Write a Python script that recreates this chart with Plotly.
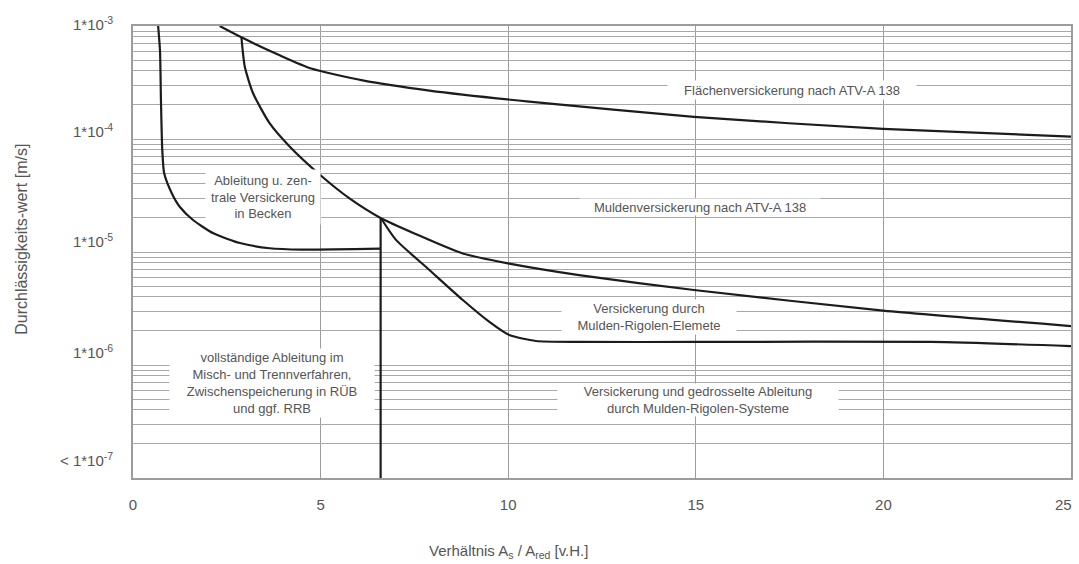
import math
import plotly.graph_objects as go

# ---- data ----
# boundary of "Ableitung u. zentrale Versickerung in Becken"
left_x = [0.67, 0.72, 0.745, 0.78, 0.83, 1.03, 1.25, 1.6, 2.13, 2.85, 3.64, 4.5, 6.6]
left_y = [1e-3, 6.0e-4, 2.21e-4, 8.0e-5, 5.0e-5, 3.33e-5, 2.5e-5, 1.92e-5, 1.47e-5, 1.2e-5, 1.08e-5, 1.05e-5, 1.07e-5]

# vertical divider
div_x = [6.6, 6.6]
div_y = [1e-7, 1.99e-5]

# Flächenversickerung boundary
flaeche_x = [2.31, 2.89, 3.91, 4.75, 6.12, 7.9, 10.56, 14.95, 19.99, 25]
flaeche_y = [1e-3, 7.94e-4, 5.5e-4, 4.2e-4, 3.3e-4, 2.68e-4, 2.14e-4, 1.57e-4, 1.23e-4, 1.05e-4]

# Muldenversickerung / Mulden-Rigolen-Elemente boundary
mulden_x = [2.89, 2.98, 3.2, 3.64, 4.18, 4.99, 5.77, 6.61, 7.5, 8.79, 10.03, 11.89, 14.95, 19.99, 25]
mulden_y = [7.94e-4, 4.36e-4, 2.54e-4, 1.38e-4, 8.55e-5, 4.8e-5, 2.98e-5, 1.99e-5, 1.46e-5, 9.7e-6,
            7.9e-6, 6.25e-6, 4.61e-6, 3.03e-6, 2.21e-6]

# Mulden-Rigolen-Systeme boundary
rig_x = [6.61, 7.01, 7.9, 8.79, 9.49, 10.03, 10.74, 11.89, 15, 21.27, 25]
rig_y = [1.99e-5, 1.28e-5, 6.93e-6, 3.76e-6, 2.42e-6, 1.84e-6, 1.63e-6, 1.6e-6, 1.6e-6, 1.6e-6, 1.47e-6]

x_ticks = [0, 5, 10, 15, 20, 25]
x_tick_labels = ["0", "5", "10", "15", "20", "25"]
decades = [1e-7, 1e-6, 1e-5, 1e-4, 1e-3]
y_tick_labels = ["< 1*10<sup>-7</sup>", "1*10<sup>-6</sup>", "1*10<sup>-5</sup>",
                 "1*10<sup>-4</sup>", "1*10<sup>-3</sup>"]
y_label_shift = [19, 14, 12, 9, 3]

region_labels = [
    "Flächenversickerung nach ATV-A 138",
    "Muldenversickerung nach ATV-A 138",
    "Ableitung u. zen-<br>trale Versickerung<br>in Becken",
    "vollständige Ableitung im<br>Misch- und Trennverfahren,<br>Zwischenspeicherung in RÜB<br>und ggf. RRB",
    "Versickerung durch<br>Mulden-Rigolen-Elemete",
    "Versickerung und gedrosselte Ableitung<br>durch Mulden-Rigolen-Systeme",
]
region_x = [17.57, 15.1, 3.46, 3.71, 13.75, 15.07]
region_y = [2.72e-4, 2.49e-5, 3.08e-5, 7.0e-7, 2.66e-6, 4.9e-7]
# layout of the white label boxes (px)
region_w = [248, 240, 114, 204, 174, 280]
region_h = [18, 16, 54, 68, 34, 32]

# ---- grid values (log minor grid) ----
grid_vals = []
for d in decades[:-1]:
    for m in range(1, 10):
        grid_vals.append(d * m)
grid_vals.append(decades[-1])

FONT = "Liberation Sans, Arial, sans-serif"
TXT = "#555555"
LINE = "#1c1c1c"

fig = go.Figure()
for xs, ys, shape in [(left_x, left_y, "spline"), (div_x, div_y, "linear"),
                      (flaeche_x, flaeche_y, "spline"), (mulden_x, mulden_y, "spline"),
                      (rig_x, rig_y, "spline")]:
    fig.add_trace(go.Scatter(x=xs, y=ys, mode="lines",
                             line=dict(color=LINE, width=2.2, shape=shape, smoothing=0.6),
                             showlegend=False, hoverinfo="skip"))

annotations = []
for t, x, y, w, h in zip(region_labels, region_x, region_y, region_w, region_h):
    annotations.append(dict(text=t, x=x, y=math.log10(y), xref="x", yref="y", yanchor="middle",
                            showarrow=False, bgcolor="white", width=w, height=h,
                            borderpad=0, align="center", valign="middle",
                            font=dict(family=FONT, size=13, color=TXT)))
for v, lab, s in zip(decades, y_tick_labels, y_label_shift):
    annotations.append(dict(text=lab, x=0, xref="paper", y=math.log10(v), yref="y",
                            xanchor="right", yanchor="middle", xshift=-18, yshift=s,
                            showarrow=False, font=dict(family=FONT, size=15, color=TXT)))
# last x tick label sits inside the right edge
annotations.append(dict(text=x_tick_labels[-1], x=x_ticks[-1], xref="x", xanchor="right", xshift=3,
                        y=0, yref="paper", yanchor="middle", yshift=-26,
                        showarrow=False, font=dict(family=FONT, size=15, color=TXT)))
annotations.append(dict(text="Verhältnis A<sub>s</sub> / A<sub>red</sub> [v.H.]",
                        x=10, xref="x", xanchor="center", y=0, yref="paper", yanchor="middle",
                        yshift=-73, showarrow=False, font=dict(family=FONT, size=15, color=TXT)))
annotations.append(dict(text="Durchlässigkeits-wert [m/s]", textangle=-90,
                        x=0, xref="paper", xanchor="center", xshift=-111, y=0.527, yref="paper",
                        yanchor="middle", showarrow=False, font=dict(family=FONT, size=16, color=TXT)))

fig.update_layout(
    width=1079, height=564,
    margin=dict(l=133, r=6, t=26, b=86),
    paper_bgcolor="white", plot_bgcolor="white",
    annotations=annotations,
    xaxis=dict(range=[0, 25], tickvals=x_ticks[:-1], ticktext=x_tick_labels[:-1],
               showgrid=True, gridcolor="#9c9c9c", gridwidth=1,
               zeroline=False, showline=True, linecolor="#9c9c9c", linewidth=1.5, mirror=True,
               ticks="", ticklabelstandoff=12,
               tickfont=dict(family=FONT, size=15, color=TXT)),
    yaxis=dict(type="log", range=[-7, -3], tickvals=grid_vals, showticklabels=False,
               showgrid=True, gridcolor="#a8a8a8", gridwidth=1, zeroline=False,
               showline=True, linecolor="#9c9c9c", linewidth=1.5, mirror=True, ticks=""),
)

fig.write_html("out.html", config={"displayModeBar": False},
               post_script="document.body.style.margin='0';")
